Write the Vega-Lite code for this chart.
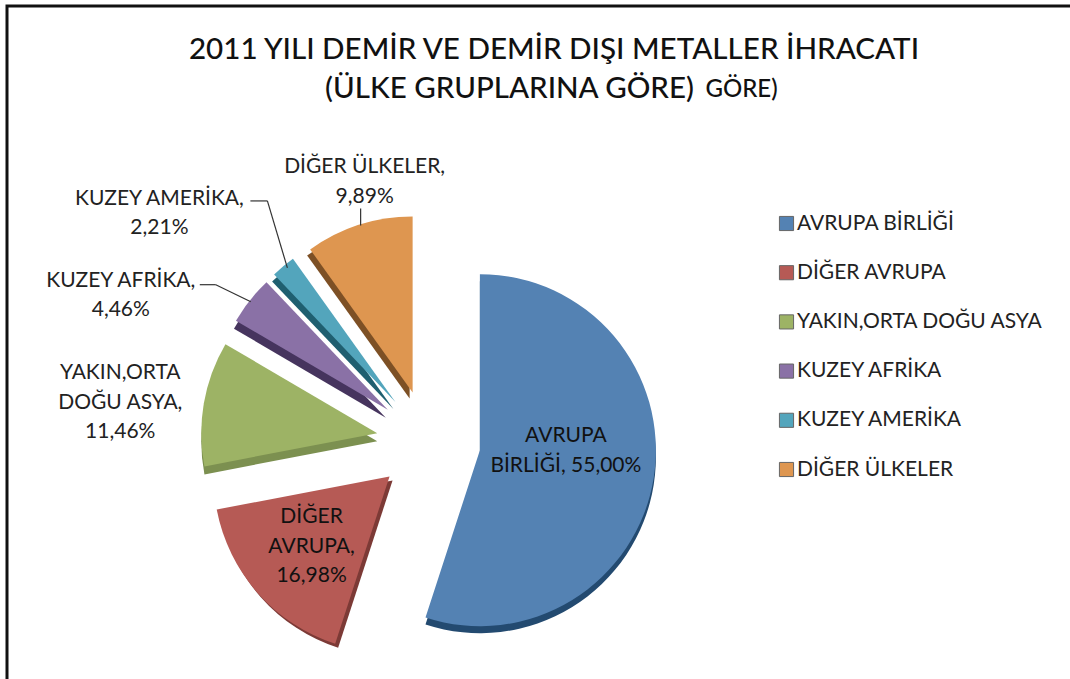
{
"$schema":"https://vega.github.io/schema/vega-lite/v6.json",
"width":1070,"height":700,
"autosize":{"type":"none"},
"padding":{"left":7,"top":6,"right":0,"bottom":0},
"background":"#ffffff",
"view":{"stroke":"#111111","strokeWidth":3,"fill":"#ffffff"},
"title":{"text":"2011 YILI DEMİR VE DEMİR DIŞI METALLER İHRACATI","font":"Lato","fontSize":29.6,"fontWeight":500,"color":"#111111","anchor":"middle","dx":12,"offset":-83,"baseline":"alphabetic","dy":0},
"data":{"values":[
{"order":1,"grup":"AVRUPA BİRLİĞİ","pay":55.00,"etiket":"AVRUPA\nBİRLİĞİ, 55,00%"},
{"order":2,"grup":"DİĞER AVRUPA","pay":16.98,"etiket":"DİĞER\nAVRUPA,\n16,98%"},
{"order":3,"grup":"YAKIN,ORTA DOĞU ASYA","pay":11.46,"etiket":"YAKIN,ORTA\nDOĞU ASYA,\n11,46%"},
{"order":4,"grup":"KUZEY AFRİKA","pay":4.46,"etiket":"KUZEY AFRİKA,\n4,46%"},
{"order":5,"grup":"KUZEY AMERİKA","pay":2.21,"etiket":"KUZEY AMERİKA,\n2,21%"},
{"order":6,"grup":"DİĞER ÜLKELER","pay":9.89,"etiket":"DİĞER ÜLKELER,\n9,89%"}
]},
"transform":[
{"window":[{"op":"sum","field":"pay","as":"bitis"}],"sort":[{"field":"order"}]},
{"calculate":"datum.bitis-datum.pay","as":"baslangic"},
{"calculate":"sin((datum.baslangic+datum.bitis)/2*2*PI/100)","as":"ex"},
{"calculate":"cos((datum.baslangic+datum.bitis)/2*2*PI/100)","as":"ey"}
],
"encoding":{
"x":{"field":"ex","type":"quantitative","scale":{"domain":[-8.106,12.47]},"axis":{"orient":"top","domain":false,"ticks":false,"labels":false,"grid":false,"title":"(ÜLKE GRUPLARINA GÖRE)","titleFont":"Lato","titleFontSize":29.5,"titleFontWeight":500,"titleColor":"#111111","titleX":502,"titleY":91,"titleBaseline":"alphabetic","titleAlign":"center"}},
"y":{"field":"ey","type":"quantitative","scale":{"domain":[-5.077,8.385]},"axis":{"domain":false,"ticks":false,"labels":false,"grid":false,"title":"GÖRE)","titleAngle":0,"titleFont":"Lato","titleFontSize":24,"titleFontWeight":500,"titleColor":"#111111","titleX":734,"titleY":90,"titleBaseline":"alphabetic","titleAlign":"center"}}
},
"layer":[
{"transform":[{"filter":"datum.order==1"}],"mark":{"type":"arc","radius":176,"fill":"#234a70","xOffset":0,"yOffset":7},"encoding":{"theta":{"field":"baslangic","type":"quantitative","scale":{"domain":[0,100]}},"theta2":{"field":"bitis"}}},
{"transform":[{"filter":"datum.order==2"}],"mark":{"type":"arc","radius":176,"fill":"#7c3a36","xOffset":3,"yOffset":4},"encoding":{"theta":{"field":"baslangic","type":"quantitative","scale":{"domain":[0,100]}},"theta2":{"field":"bitis"}}},
{"transform":[{"filter":"datum.order==3"}],"mark":{"type":"arc","radius":176,"fill":"#7c9050","xOffset":0,"yOffset":8},"encoding":{"theta":{"field":"baslangic","type":"quantitative","scale":{"domain":[0,100]}},"theta2":{"field":"bitis"}}},
{"transform":[{"filter":"datum.order==4"}],"mark":{"type":"arc","radius":176,"fill":"#46345e","xOffset":-2,"yOffset":8},"encoding":{"theta":{"field":"baslangic","type":"quantitative","scale":{"domain":[0,100]}},"theta2":{"field":"bitis"}}},
{"transform":[{"filter":"datum.order==5"}],"mark":{"type":"arc","radius":176,"fill":"#1f5f70","xOffset":-2,"yOffset":7},"encoding":{"theta":{"field":"baslangic","type":"quantitative","scale":{"domain":[0,100]}},"theta2":{"field":"bitis"}}},
{"transform":[{"filter":"datum.order==6"}],"mark":{"type":"arc","radius":176,"fill":"#7d5025","xOffset":-3,"yOffset":6},"encoding":{"theta":{"field":"baslangic","type":"quantitative","scale":{"domain":[0,100]}},"theta2":{"field":"bitis"}}},
{"mark":{"type":"arc","radius":176},"encoding":{
"theta":{"field":"baslangic","type":"quantitative","scale":{"domain":[0,100]}},"theta2":{"field":"bitis"},
"color":{"field":"grup","type":"nominal","sort":null,"scale":{"domain":["AVRUPA BİRLİĞİ","DİĞER AVRUPA","YAKIN,ORTA DOĞU ASYA","KUZEY AFRİKA","KUZEY AMERİKA","DİĞER ÜLKELER"],"range":["#5482b3","#b65a55","#9db365","#8a71a6","#53a5bc","#de9650"]},
"legend":{"title":null,"orient":"none","legendX":769,"legendY":207,"symbolType":"square","symbolSize":200,"symbolStrokeColor":"#666666","symbolStrokeWidth":1,"labelFont":"Lato","labelFontSize":21,"labelColor":"#222222","rowPadding":27.2,"labelOffset":0,"labelLimit":300}}}},
{"transform":[{"filter":"datum.order==5"}],"mark":{"type":"rule","color":"#333333","strokeWidth":1.2,"xOffset":-145,"yOffset":-201,"x2Offset":-128,"y2Offset":-201},"encoding":{"x2":{"field":"ex"},"y2":{"field":"ey"}}},
{"transform":[{"filter":"datum.order==5"}],"mark":{"type":"rule","color":"#333333","strokeWidth":1.2,"xOffset":-128,"yOffset":-201,"x2Offset":-108,"y2Offset":-134},"encoding":{"x2":{"field":"ex"},"y2":{"field":"ey"}}},
{"transform":[{"filter":"datum.order==4"}],"mark":{"type":"rule","color":"#333333","strokeWidth":1.2,"xOffset":-188,"yOffset":-125,"x2Offset":-172,"y2Offset":-125},"encoding":{"x2":{"field":"ex"},"y2":{"field":"ey"}}},
{"transform":[{"filter":"datum.order==4"}],"mark":{"type":"rule","color":"#333333","strokeWidth":1.2,"xOffset":-172,"yOffset":-125,"x2Offset":-137,"y2Offset":-108},"encoding":{"x2":{"field":"ex"},"y2":{"field":"ey"}}},
{"transform":[{"filter":"datum.order==6"}],"mark":{"type":"rule","color":"#333333","strokeWidth":1.2,"xOffset":-52,"yOffset":-184,"x2Offset":-52,"y2Offset":-167},"encoding":{"x2":{"field":"ex"},"y2":{"field":"ey"}}},
{"transform":[{"filter":"datum.order==1"}],"mark":{"type":"text","font":"Lato","fontSize":21,"color":"#111111","lineBreak":"\n","lineHeight":30,"dx":86,"dy":-14},"encoding":{"text":{"field":"etiket"}}},
{"transform":[{"filter":"datum.order==2"}],"mark":{"type":"text","font":"Lato","fontSize":21,"color":"#111111","lineBreak":"\n","lineHeight":29.5,"dx":-78,"dy":41},"encoding":{"text":{"field":"etiket"}}},
{"transform":[{"filter":"datum.order==3"}],"mark":{"type":"text","font":"Lato","fontSize":21,"color":"#222222","lineBreak":"\n","lineHeight":29.5,"dx":-257,"dy":-60},"encoding":{"text":{"field":"etiket"}}},
{"transform":[{"filter":"datum.order==4"}],"mark":{"type":"text","font":"Lato","fontSize":21,"color":"#222222","lineBreak":"\n","lineHeight":29.5,"dx":-267,"dy":-129},"encoding":{"text":{"field":"etiket"}}},
{"transform":[{"filter":"datum.order==5"}],"mark":{"type":"text","font":"Lato","fontSize":21,"color":"#222222","lineBreak":"\n","lineHeight":29.5,"dx":-236,"dy":-203},"encoding":{"text":{"field":"etiket"}}},
{"transform":[{"filter":"datum.order==6"}],"mark":{"type":"text","font":"Lato","fontSize":21,"color":"#222222","lineBreak":"\n","lineHeight":29.5,"dx":-48,"dy":-225},"encoding":{"text":{"field":"etiket"}}}
]
}
